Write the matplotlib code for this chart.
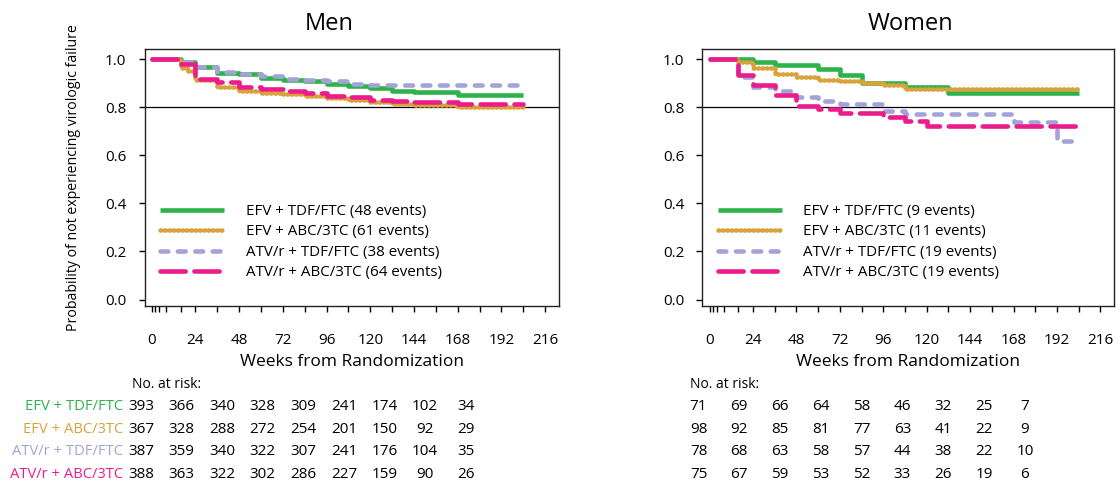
import matplotlib
matplotlib.use('Agg')
import matplotlib.pyplot as plt

plt.rcParams['font.family'] = ['Open Sans', 'DejaVu Sans']

# ---------------- data ----------------
series_labels = ["EFV + TDF/FTC", "EFV + ABC/3TC", "ATV/r + TDF/FTC", "ATV/r + ABC/3TC"]
men_events = [48, 61, 38, 64]
women_events = [9, 11, 19, 19]

men_green_t = [0, 16, 24, 36, 48, 60, 72, 84, 96, 108, 120, 132, 144, 168, 204]
men_green_s = [1.0, 0.99, 0.966, 0.943, 0.936, 0.923, 0.915, 0.909, 0.898, 0.888, 0.879, 0.869, 0.862, 0.851, 0.851]
men_orange_t = [0, 16, 20, 24, 36, 48, 60, 72, 84, 96, 108, 120, 132, 144, 168, 204]
men_orange_s = [1.0, 0.962, 0.952, 0.915, 0.886, 0.869, 0.861, 0.855, 0.845, 0.837, 0.83, 0.823, 0.813, 0.81, 0.802, 0.802]
men_lav_t = [0, 16, 24, 36, 48, 60, 72, 84, 96, 108, 120, 204]
men_lav_s = [1.0, 0.99, 0.966, 0.945, 0.937, 0.929, 0.919, 0.915, 0.909, 0.898, 0.893, 0.891]
men_pink_t = [0, 16, 24, 36, 48, 60, 72, 84, 96, 108, 120, 132, 144, 168, 204]
men_pink_s = [1.0, 0.98, 0.919, 0.905, 0.886, 0.877, 0.869, 0.858, 0.848, 0.841, 0.831, 0.824, 0.82, 0.813, 0.813]

women_green_t = [0, 24, 36, 60, 72, 84, 108, 132, 204]
women_green_s = [1.0, 0.986, 0.976, 0.957, 0.933, 0.899, 0.884, 0.859, 0.859]
women_orange_t = [0, 16, 24, 36, 48, 60, 72, 84, 96, 108, 204]
women_orange_s = [1.0, 0.99, 0.962, 0.94, 0.926, 0.912, 0.909, 0.901, 0.891, 0.876, 0.876]
women_lav_t = [0, 16, 24, 36, 48, 60, 72, 96, 108, 168, 192, 204]
women_lav_s = [1.0, 0.926, 0.884, 0.869, 0.841, 0.827, 0.813, 0.784, 0.77, 0.739, 0.66, 0.66]
women_pink_t = [0, 16, 24, 36, 48, 60, 72, 96, 108, 120, 204]
women_pink_s = [1.0, 0.933, 0.891, 0.852, 0.806, 0.791, 0.777, 0.759, 0.742, 0.72, 0.72]

x_ticks = [0, 2, 4, 8, 16, 24, 36, 48, 60, 72, 84, 96, 108, 120, 132, 144, 156, 168, 180, 192, 204, 216]
x_ticklabels = ["0", "", "", "", "", "24", "", "48", "", "72", "", "96", "", "120", "", "144", "", "168", "", "192", "", "216"]
y_ticks = [0.0, 0.2, 0.4, 0.6, 0.8, 1.0]
y_ticklabels = ["0.0", "0.2", "0.4", "0.6", "0.8", "1.0"]

men_at_risk = [
    [393, 366, 340, 328, 309, 241, 174, 102, 34],
    [367, 328, 288, 272, 254, 201, 150, 92, 29],
    [387, 359, 340, 322, 307, 241, 176, 104, 35],
    [388, 363, 322, 302, 286, 227, 159, 90, 26],
]
women_at_risk = [
    [71, 69, 66, 64, 58, 46, 32, 25, 7],
    [98, 92, 85, 81, 77, 63, 41, 22, 9],
    [78, 68, 63, 58, 57, 44, 38, 22, 10],
    [75, 67, 59, 53, 52, 33, 26, 19, 6],
]

# ---------------- style ----------------
colors = ['#2DB34A', '#D9A23A', '#A3A3D9', '#EC1C8C']
styles = ['-', (0, (0.2, 0.75)), (0, (1.7, 2.1)), (0, (5.5, 1.9))]
LW = 3.3

W, H = 1120, 487
fig = plt.figure(figsize=(W / 100, H / 100), dpi=100)

def px_rect(l, t, r, b):
    return [l / W, 1 - b / H, (r - l) / W, (b - t) / H]

ax_m = fig.add_axes(px_rect(144.5, 49, 558.7, 306))
ax_w = fig.add_axes(px_rect(702.3, 49, 1114, 306))

panels = [
    (ax_m, [(men_green_t, men_green_s), (men_orange_t, men_orange_s), (men_lav_t, men_lav_s), (men_pink_t, men_pink_s)], men_events),
    (ax_w, [(women_green_t, women_green_s), (women_orange_t, women_orange_s), (women_lav_t, women_lav_s), (women_pink_t, women_pink_s)], women_events),
]

LEG_FS = 10.9
for ax, curves, events in panels:
    ax.axhline(0.8, color='black', lw=0.9, zorder=1)
    for (t, s), c, ls, lab, ev in zip(curves, colors, styles, series_labels, events):
        ax.step(t, s, where='post', color=c, lw=LW, linestyle=ls,
                dash_capstyle='round', solid_capstyle='butt',
                label=f"{lab} ({ev} events)", zorder=2)
    ax.set_xlim(-4, 223.5)
    ax.set_ylim(-0.027, 1.042)
    ax.set_xticks(x_ticks)
    ax.set_xticklabels(x_ticklabels)
    ax.set_yticks(y_ticks)
    ax.set_yticklabels(y_ticklabels)
    ax.tick_params(axis='x', direction='out', length=4, width=1, pad=15.5, labelsize=11)
    ax.tick_params(axis='y', direction='out', length=4, width=1, pad=9, labelsize=11)
    for sp in ax.spines.values():
        sp.set_linewidth(1.0)
        sp.set_color('#222222')
    ax.set_xlabel("Weeks from Randomization", fontsize=12.5, labelpad=4)
    ax.legend(loc='center left', bbox_to_anchor=(0.037, 0.249), frameon=False,
              fontsize=LEG_FS, borderpad=0, borderaxespad=0,
              handlelength=4.9 * 9.5 / LEG_FS, handletextpad=1.6 * 9.5 / LEG_FS,
              labelspacing=0.36, handleheight=0.6)

ax_m.set_ylabel("Probability of not experiencing virologic failure", fontsize=10.2, labelpad=17)

fig.text(329 / W, 1 - 30 / H, "Men", fontsize=17, ha='center', va='baseline')
fig.text(910 / W, 1 - 30 / H, "Women", fontsize=17, ha='center', va='baseline')

# number at risk tables
def at_risk(x0, dx, table, with_labels, label_x):
    fig.text((x0 - 9) / W, 1 - 385 / H, "No. at risk:", fontsize=10, ha='left', va='center')
    rows_y = [407, 429.5, 451.5, 474]
    for r, (row, yy) in enumerate(zip(table, rows_y)):
        if with_labels:
            fig.text(label_x / W, 1 - yy / H, series_labels[r], color=colors[r],
                     fontsize=10.6, ha='right', va='center')
        for i, v in enumerate(row):
            fig.text((x0 + dx * i) / W, 1 - yy / H, str(v), fontsize=11,
                     ha='center', va='center')

at_risk(141, 40.6, men_at_risk, True, 123)
at_risk(698.5, 40.8, women_at_risk, False, 0)

fig.savefig('out.png', dpi=100)
